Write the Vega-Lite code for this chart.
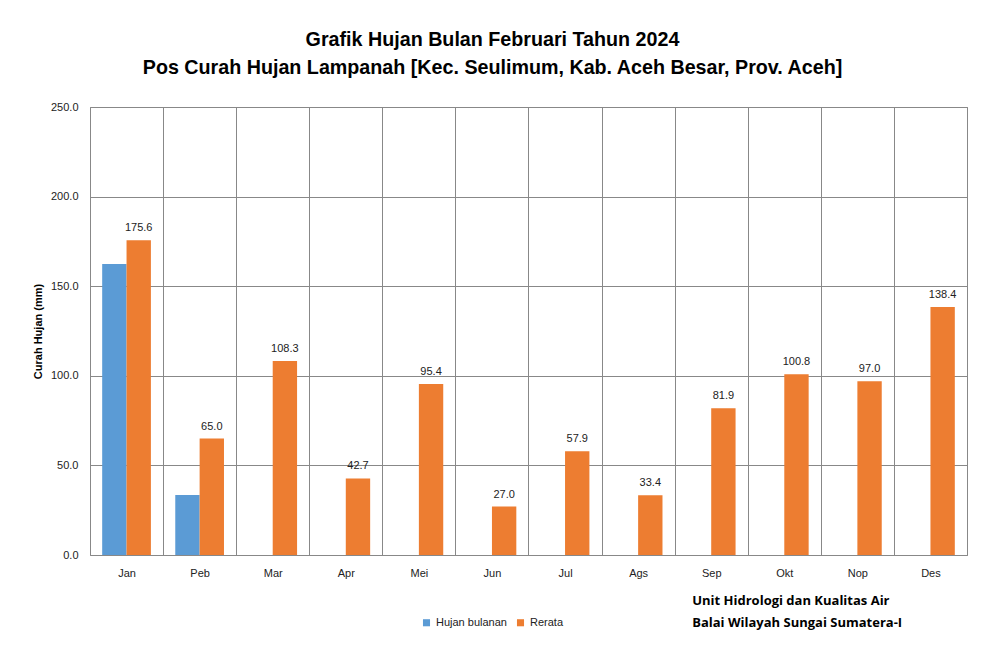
{
  "$schema": "https://vega.github.io/schema/vega-lite/v6.json",
  "width": 877,
  "height": 448,
  "autosize": {"type": "none"},
  "padding": {"left": 90, "top": 107, "right": 17, "bottom": 90},
  "background": "white",
  "title": {
    "text": ["Grafik Hujan Bulan Februari Tahun 2024", "Pos Curah Hujan Lampanah [Kec. Seulimum, Kab. Aceh Besar, Prov. Aceh]"],
    "font": "Liberation Sans",
    "fontSize": 19.7,
    "fontWeight": "bold",
    "color": "#000000",
    "lineHeight": 28,
    "anchor": "middle",
    "frame": "group",
    "dx": -36,
    "offset": 23
  },
  "config": {
    "view": {"stroke": "#888888", "strokeWidth": 1},
    "axis": {"labelFont": "Liberation Sans", "labelFontSize": 11, "labelColor": "#222222", "titleFont": "Liberation Sans", "gridColor": "#888888", "gridOpacity": 1, "domain": false, "ticks": false},
    "legend": {"labelFont": "Liberation Sans", "labelFontSize": 11, "labelColor": "#222222"}
  },
  "data": {
    "values": [
      {"bulan": "Jan", "seri": "Hujan bulanan", "nilai": 162.4},
      {"bulan": "Peb", "seri": "Hujan bulanan", "nilai": 33.5},
      {"bulan": "Jan", "seri": "Rerata", "nilai": 175.6},
      {"bulan": "Peb", "seri": "Rerata", "nilai": 65.0},
      {"bulan": "Mar", "seri": "Rerata", "nilai": 108.3},
      {"bulan": "Apr", "seri": "Rerata", "nilai": 42.7},
      {"bulan": "Mei", "seri": "Rerata", "nilai": 95.4},
      {"bulan": "Jun", "seri": "Rerata", "nilai": 27.0},
      {"bulan": "Jul", "seri": "Rerata", "nilai": 57.9},
      {"bulan": "Ags", "seri": "Rerata", "nilai": 33.4},
      {"bulan": "Sep", "seri": "Rerata", "nilai": 81.9},
      {"bulan": "Okt", "seri": "Rerata", "nilai": 100.8},
      {"bulan": "Nop", "seri": "Rerata", "nilai": 97.0},
      {"bulan": "Des", "seri": "Rerata", "nilai": 138.4}
    ]
  },
  "encoding": {
    "x": {
      "field": "bulan", "type": "nominal",
      "sort": ["Jan", "Peb", "Mar", "Apr", "Mei", "Jun", "Jul", "Ags", "Sep", "Okt", "Nop", "Des"],
      "scale": {"domain": ["Jan", "Peb", "Mar", "Apr", "Mei", "Jun", "Jul", "Ags", "Sep", "Okt", "Nop", "Des"], "paddingInner": 0, "paddingOuter": 0},
      "axis": {"title": null, "labelAngle": 0, "labelPadding": 12, "grid": true, "tickBand": "extent"}
    },
    "y": {
      "field": "nilai", "type": "quantitative",
      "scale": {"domain": [0, 250], "nice": false},
      "axis": {"title": "Curah Hujan (mm)", "titleFontSize": 11, "titleFontWeight": "bold", "titleColor": "#000000", "titlePadding": 7, "format": ".1f", "values": [0, 50, 100, 150, 200, 250], "labelPadding": 12}
    }
  },
  "layer": [
    {
      "mark": {"type": "bar"},
      "encoding": {
        "xOffset": {"field": "seri", "type": "nominal", "scale": {"domain": ["Hujan bulanan", "Rerata"], "paddingOuter": 0.5, "paddingInner": 0}},
        "color": {
          "field": "seri", "type": "nominal",
          "scale": {"domain": ["Hujan bulanan", "Rerata"], "range": ["#5B9BD5", "#ED7D31"]},
          "legend": {"title": null, "orient": "none", "legendX": 331, "legendY": 510, "direction": "horizontal", "symbolType": "square", "symbolSize": 50, "columnPadding": 8, "labelOffset": 4}
        }
      }
    },
    {
      "transform": [{"filter": "datum.seri === 'Rerata'"}],
      "mark": {"type": "text", "baseline": "bottom", "dy": -7, "font": "Liberation Sans", "fontSize": 11, "color": "#222222"},
      "encoding": {
        "xOffset": {"field": "seri", "type": "nominal", "scale": {"domain": ["Hujan bulanan", "Rerata"], "paddingOuter": 0.5, "paddingInner": 0}},
        "text": {"field": "nilai", "type": "quantitative", "format": ".1f"}
      }
    },
    {
      "data": {"values": [
        {"bulan": "Sep", "nilai": -25.5, "teks": "Unit Hidrologi dan Kualitas Air"},
        {"bulan": "Sep", "nilai": -37.8, "teks": "Balai Wilayah Sungai Sumatera-I"}
      ]},
      "mark": {"type": "text", "align": "left", "baseline": "middle", "dx": -19, "font": "Open Sans", "fontSize": 13, "fontWeight": "bold", "color": "#000000", "clip": false},
      "encoding": {
        "text": {"field": "teks", "type": "nominal"}
      }
    }
  ]
}
